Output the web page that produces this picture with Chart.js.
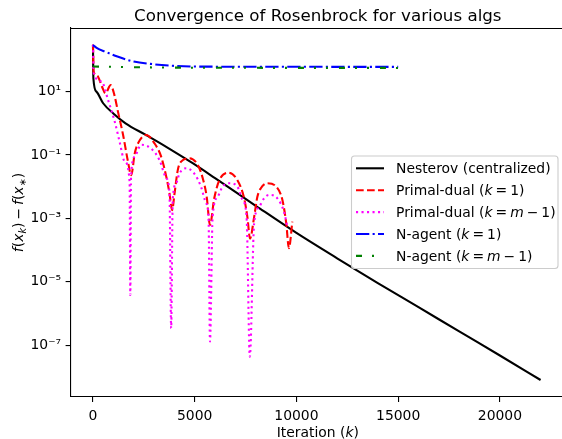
<!DOCTYPE html>
<html>
<head>
<meta charset="utf-8">
<script src="https://cdn.jsdelivr.net/npm/chart.js@4.4.0/dist/chart.umd.min.js"></script>
<style>
  html, body { margin: 0; padding: 0; overflow: hidden; background: #fff; }
  #wrap { width: 568px; height: 439px; }
</style>
</head>
<body>
<div id="wrap"><canvas id="chart" width="568" height="439"></canvas></div>
<script>
// f(x_k) - f(x*) against iteration
const nesterovIter = [0, 20, 170, 500, 1000, 1600, 2600, 3700, 4900, 6000, 8000, 10000, 12000, 14000, 16000, 18000, 20000, 22000];
const nesterovVal = [300, 26, 10, 4.3, 2.05, 1.0, 0.43, 0.165, 0.055, 0.0186, 2.5e-3, 3.47e-4, 5.5e-5, 9.1e-6, 1.58e-6, 2.7e-7, 4.7e-8, 7.9e-9];

const pd1Iter = [0, 30, 200, 450, 610, 870, 1050, 1230, 1480, 1720, 1880, 2050, 2210, 2620, 3030, 3350, 3600, 3760, 3890, 4000, 4170, 4330, 4740, 5150, 5390, 5590, 5750, 5960, 6210, 6660, 7100, 7430, 7590, 7720, 7920, 8080, 8250, 8570, 9010, 9310, 9500, 9630, 9800];
const pd1Val = [300, 43, 32, 14, 8.9, 16, 7.9, 2.3, 0.43, 0.062, 0.023, 0.11, 0.23, 0.43, 0.23, 0.089, 0.021, 0.0062, 0.0018, 0.0055, 0.034, 0.062, 0.079, 0.049, 0.019, 0.0048, 0.00062, 0.0043, 0.016, 0.0275, 0.016, 0.0043, 0.0011, 0.00023, 0.0011, 0.0048, 0.0089, 0.0129, 0.010, 0.0038, 0.00069, 0.000115, 0.00079];

const pdmIter = [0, 30, 420, 740, 1070, 1310, 1560, 1800, 1835, 1870, 2050, 2370, 2860, 3270, 3600, 3760, 3842, 3920, 4090, 4250, 4580, 4980, 5310, 5560, 5680, 5751, 5880, 6130, 6370, 6700, 7100, 7350, 7550, 7709, 7920, 8170, 8410, 8650, 9060, 9390, 9550];
const pdmVal = [300, 40, 21, 5.5, 1.12, 0.26, 0.062, 0.0145, 3.8e-6, 0.02, 0.089, 0.21, 0.16, 0.069, 0.0186, 0.0062, 3.4e-7, 0.0038, 0.0129, 0.026, 0.038, 0.026, 0.01, 0.003, 0.0011, 1.3e-7, 0.0011, 0.0048, 0.01, 0.0129, 0.01, 0.0038, 0.0011, 4.3e-8, 0.00069, 0.0023, 0.0043, 0.0055, 0.0043, 0.0016, 0.00055];

const na1Iter = [0, 200, 600, 1200, 2000, 3000, 4000, 5000, 8000, 15000];
const na1Val = [295, 235, 183, 128, 89, 73, 65, 62, 61, 60.5];

const namIter = [0, 3000, 8000, 15000];
const namVal = [62, 58, 56.5, 56];

const seriesLabels = ['Nesterov (centralized)', 'Primal-dual (k = 1)', 'Primal-dual (k = m − 1)', 'N-agent (k = 1)', 'N-agent (k = m − 1)'];
const xTicks = [0, 5000, 10000, 15000, 20000];
const yTicks = [1e-7, 1e-5, 1e-3, 1e-1, 1e1];
const yTickLabels = ['10⁻⁷', '10⁻⁵', '10⁻³', '10⁻¹', '10¹'];

const FONT = '"DejaVu Sans"';

function pts(xs, ys) {
    return xs.map((x, i) => ({ x: x, y: ys[i] }));
}

// legend / axis texts with italic math parts, gap = math spacing in px
const legendText = [
    [{ t: 'Nesterov (centralized)' }],
    [{ t: 'Primal-dual (' }, { t: 'k', it: 1 }, { gap: 3 }, { t: '=' }, { gap: 3 }, { t: '1)' }],
    [{ t: 'Primal-dual (' }, { t: 'k', it: 1 }, { gap: 3 }, { t: '=' }, { gap: 3 }, { t: 'm', it: 1 }, { gap: 3 }, { t: '−' }, { gap: 3 }, { t: '1)' }],
    [{ t: 'N-agent (' }, { t: 'k', it: 1 }, { gap: 3 }, { t: '=' }, { gap: 3 }, { t: '1)' }],
    [{ t: 'N-agent (' }, { t: 'k', it: 1 }, { gap: 3 }, { t: '=' }, { gap: 3 }, { t: 'm', it: 1 }, { gap: 3 }, { t: '−' }, { gap: 3 }, { t: '1)' }]
];
const yTitle = [
    { t: 'f', it: 1 }, { t: '(' }, { t: 'x', it: 1 }, { t: 'k', it: 1, sub: 1 }, { t: ')' },
    { gap: 3 }, { t: '−' }, { gap: 3 },
    { t: 'f', it: 1 }, { t: '(' }, { t: 'x', it: 1 }, { t: '∗', sub: 1 }, { t: ')' }
];
const xTitle = [{ t: 'Iteration (' }, { t: 'k', it: 1 }, { t: ')' }];

function segFont(s, size) {
    const sz = s.sub ? size * 0.7 : size;
    return (s.it ? 'italic ' : '') + sz + 'px ' + FONT;
}

function segWidth(ctx, s, size) {
    if (s.gap) return s.gap;
    ctx.font = segFont(s, size);
    return ctx.measureText(s.t).width;
}

function drawRich(ctx, segs, x, y, size, align) {
    let w = 0;
    segs.forEach(s => { w += segWidth(ctx, s, size); });
    let cx = align === 'center' ? x - w / 2 : x;
    ctx.textAlign = 'left';
    ctx.textBaseline = 'alphabetic';
    segs.forEach(s => {
        if (!s.gap) {
            ctx.font = segFont(s, size);
            ctx.fillText(s.t, cx, y + (s.sub ? size * 0.22 : 0));
        }
        cx += segWidth(ctx, s, size);
    });
}

const decorations = {
    id: 'decorations',
    afterDraw(chart) {
        const ctx = chart.ctx;
        const a = chart.chartArea;
        ctx.save();
        ctx.fillStyle = '#000';

        // top and right spines
        ctx.strokeStyle = '#000';
        ctx.lineWidth = 1.1;
        ctx.beginPath();
        ctx.moveTo(a.left, a.top + 0.5);
        ctx.lineTo(a.right, a.top + 0.5);
        ctx.lineTo(a.right, a.bottom);
        ctx.stroke();

        // title
        ctx.font = '16.7px ' + FONT;
        ctx.textAlign = 'center';
        ctx.textBaseline = 'alphabetic';
        ctx.fillText('Convergence of Rosenbrock for various algs', (a.left + a.right) / 2, 20.7);

        // axis titles
        drawRich(ctx, xTitle, (a.left + a.right) / 2, 436.5, 13.9, 'center');
        ctx.save();
        ctx.translate(17.5, (a.top + a.bottom) / 2);
        ctx.rotate(-Math.PI / 2);
        drawRich(ctx, yTitle, 0, 5, 13.9, 'center');
        ctx.restore();

        // legend box
        const lx = 351.5, ly = 156, lw = 206.5, lh = 112.5, r = 3;
        ctx.beginPath();
        ctx.moveTo(lx + r, ly);
        ctx.arcTo(lx + lw, ly, lx + lw, ly + lh, r);
        ctx.arcTo(lx + lw, ly + lh, lx, ly + lh, r);
        ctx.arcTo(lx, ly + lh, lx, ly, r);
        ctx.arcTo(lx, ly, lx + lw, ly, r);
        ctx.closePath();
        ctx.fillStyle = 'rgba(255,255,255,0.8)';
        ctx.fill();
        ctx.strokeStyle = '#cccccc';
        ctx.lineWidth = 1.1;
        ctx.stroke();

        chart.data.datasets.forEach((ds, i) => {
            const y = 168.3 + i * 21.9;
            ctx.strokeStyle = ds.borderColor;
            ctx.lineWidth = ds.borderWidth;
            ctx.lineCap = 'butt';
            ctx.setLineDash(ds.borderDash || []);
            ctx.beginPath();
            ctx.moveTo(356, y);
            ctx.lineTo(384, y);
            ctx.stroke();
            ctx.setLineDash([]);
            ctx.fillStyle = '#000';
            drawRich(ctx, legendText[i], 396, y + 5, 13.9, 'left');
        });
        ctx.restore();
    }
};

const colors = ['#000000', '#ff0000', '#ff00ff', '#0000ff', '#008000'];
const dashes = [[], [7.7, 3.3], [2.1, 3.4], [13.3, 3.3, 2.1, 3.3], [6, 10, 2, 10, 2, 11]];
const seriesData = [
    pts(nesterovIter, nesterovVal),
    pts(pd1Iter, pd1Val),
    pts(pdmIter, pdmVal),
    pts(na1Iter, na1Val),
    pts(namIter, namVal)
];

new Chart(document.getElementById('chart'), {
    type: 'line',
    data: {
        datasets: seriesData.map((d, i) => ({
            label: seriesLabels[i],
            data: d,
            borderColor: colors[i],
            backgroundColor: colors[i],
            borderWidth: 2.1,
            borderDash: dashes[i],
            pointRadius: 0,
            cubicInterpolationMode: 'monotone',
            order: 5 - i
        }))
    },
    options: {
        responsive: false,
        devicePixelRatio: 1,
        animation: false,
        events: [],
        layout: { padding: { top: 28, right: 3, left: 0, bottom: 0 } },
        plugins: {
            legend: { display: false },
            tooltip: { enabled: false },
            title: { display: false }
        },
        scales: {
            x: {
                type: 'linear',
                min: -1100,
                max: 23200,
                afterBuildTicks: s => { s.ticks = xTicks.map(v => ({ value: v })); },
                afterFit: s => { s.height = 42; },
                grid: { drawOnChartArea: false, drawTicks: true, tickLength: 5, color: '#000', lineWidth: 1.1 },
                border: { display: true, color: '#000', width: 1.1 },
                ticks: {
                    autoSkip: false, maxRotation: 0, padding: 6,
                    color: '#000', font: { family: 'DejaVu Sans', size: 13.9 },
                    callback: v => String(v)
                }
            },
            y: {
                type: 'logarithmic',
                min: 2.3e-9,
                max: 1.02e3,
                afterBuildTicks: s => { s.ticks = yTicks.map(v => ({ value: v })); },
                afterFit: s => { s.width = 70.6; },
                grid: { drawOnChartArea: false, drawTicks: true, tickLength: 5, color: '#000', lineWidth: 1.1 },
                border: { display: true, color: '#000', width: 1.1 },
                ticks: {
                    autoSkip: false, padding: 4.5,
                    color: '#000', font: { family: 'DejaVu Sans', size: 13.9 },
                    callback: (v, i) => yTickLabels[i]
                }
            }
        }
    },
    plugins: [decorations]
});
</script>
</body>
</html>
